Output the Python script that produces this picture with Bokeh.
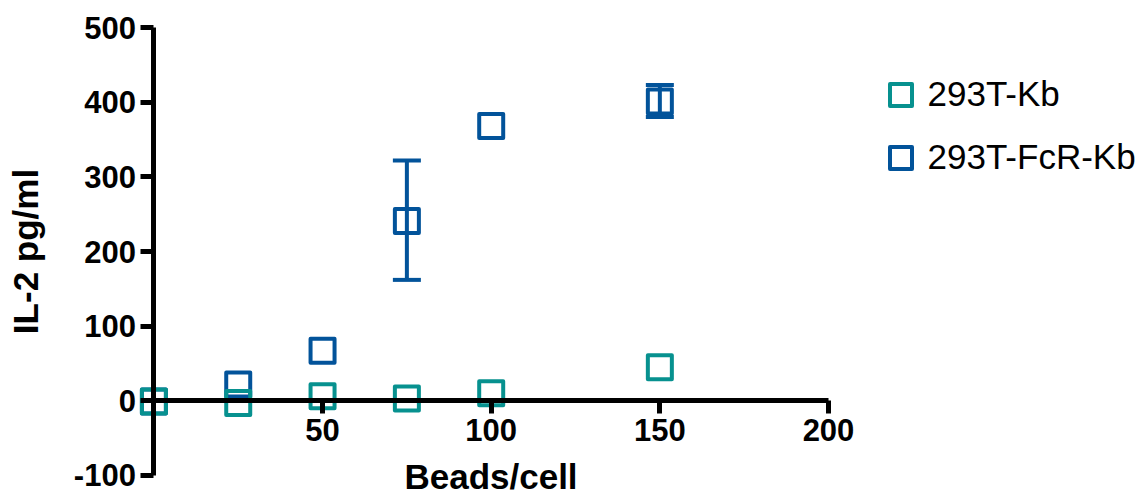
from bokeh.plotting import figure
from bokeh.models import ColumnDataSource, FixedTicker, Whisker, TeeHead, Legend, LegendItem, Range1d
from bokeh.embed import file_html
from bokeh.resources import INLINE

# ---- data ----
beads = [0, 25, 50, 75, 100, 150]
kb_il2 = [-1, -3, 6, 3, 10, 45]
fcr_il2 = [-1, 22, 67, 241, 368, 401]
err_x = [75, 150]
err_low = [162, 380]
err_high = [322, 423]
series_names = ["293T-Kb", "293T-FcR-Kb"]
x_ticks = [50, 100, 150, 200]
y_ticks = [-100, 0, 100, 200, 300, 400, 500]
y_tick_labels = ["-100", "0", "100", "200", "300", "400", "500"]

TEAL = "#07918F"
BLUE = "#02539A"
FONT = "Liberation Sans"

W, H = 1140, 495
p = figure(width=W, height=H, output_backend="svg", toolbar_location=None,
           x_range=Range1d(-45.48, 292.5), y_range=Range1d(-126.8, 536.2),
           min_border_left=0, min_border_right=0, min_border_top=0, min_border_bottom=0)
p.outline_line_color = None
p.xgrid.visible = False
p.ygrid.visible = False
p.background_fill_color = "white"
p.border_fill_color = "white"

src = ColumnDataSource(dict(x=beads, kb=kb_il2, fcr=fcr_il2))
esrc = ColumnDataSource(dict(x=err_x, lo=err_low, hi=err_high))

w = Whisker(source=esrc, base="x", lower="lo", upper="hi", dimension="height",
            line_color=BLUE, line_width=4,
            upper_head=TeeHead(size=28, line_color=BLUE, line_width=4),
            lower_head=TeeHead(size=28, line_color=BLUE, line_width=4))
p.add_layout(w)

r_fcr = p.scatter("x", "fcr", source=src, marker="square", size=24, fill_color=None,
                  line_color=BLUE, line_width=4, line_join="round")
r_kb = p.scatter("x", "kb", source=src, marker="square", size=24, fill_color=None,
                 line_color=TEAL, line_width=4, line_join="round")

for ax in (p.xaxis[0], p.yaxis[0]):
    ax.fixed_location = 0
    ax.axis_line_width = 5
    ax.axis_line_color = "black"
    ax.major_tick_line_width = 5
    ax.major_tick_line_color = "black"
    ax.major_tick_in = 0
    ax.major_tick_out = 13
    ax.minor_tick_line_color = None
    ax.major_label_text_font = FONT
    ax.major_label_text_font_style = "bold"
    ax.major_label_text_font_size = "31px"
    ax.major_label_text_color = "black"
    ax.major_label_standoff = 5
    ax.axis_label_text_font = FONT
    ax.axis_label_text_font_style = "bold"
    ax.axis_label_text_font_size = "35px"
    ax.axis_label_text_color = "black"

p.xaxis[0].ticker = FixedTicker(ticks=x_ticks)
p.yaxis[0].ticker = FixedTicker(ticks=y_ticks)
p.yaxis[0].major_label_overrides = {t: s for t, s in zip(y_ticks, y_tick_labels)}
p.xaxis[0].bounds = (0, 200)
p.yaxis[0].bounds = (-100, 500)
p.xaxis[0].axis_label = "Beads/cell"
p.yaxis[0].axis_label = "IL-2 pg/ml"
p.xaxis[0].axis_label_standoff = 13
p.yaxis[0].axis_label_standoff = 25

legend = Legend(items=[LegendItem(label=series_names[0], renderers=[r_kb]),
                       LegendItem(label=series_names[1], renderers=[r_fcr])],
                location=(872.5, 310.5), glyph_width=55, glyph_height=55,
                label_text_font=FONT, label_text_font_size="35px", label_text_color="black",
                label_standoff=0, spacing=8, padding=0, margin=0,
                border_line_color=None, background_fill_alpha=0)
p.add_layout(legend)

open("out.html", "w").write(file_html(p, INLINE))
